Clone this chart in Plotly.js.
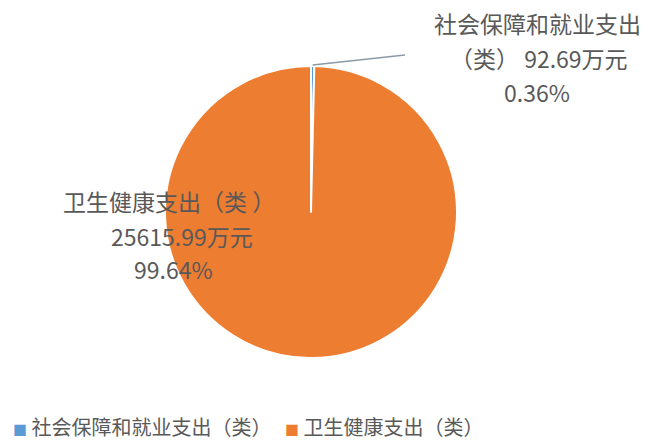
<!DOCTYPE html>
<html>
<head>
<meta charset="utf-8">
<script src="https://cdn.plot.ly/plotly-3.0.1.min.js"></script>
<style>html,body{margin:0;padding:0;background:#fff;}#chart{width:656px;height:441px;}</style>
</head>
<body>
<div id="chart"></div>
<script>
// Data
const categories = ["社会保障和就业支出（类）", "卫生健康支出（类）"];
const amounts = [92.69, 25615.99];          // 万元
const percents = ["0.36%", "99.64%"];
const colors = ["#5B9BD5", "#ED7D31"];
const unit = "万元";

const W = 656, H = 441;
const cx = 311, cy = 212, R = 146;
const FONT = "'Noto Sans CJK SC', 'Noto Sans', sans-serif";
const txtColor = "#595959";

const trace = {
  type: "pie",
  values: amounts,
  labels: categories,
  sort: false,
  direction: "clockwise",
  rotation: 0,
  textinfo: "none",
  hoverinfo: "label+value+percent",
  marker: { colors: colors, line: { color: "#ffffff", width: 2 } },
  domain: { x: [(cx - R) / W, (cx + R) / W], y: [(H - cy - R) / H, (H - cy + R) / H] },
  showlegend: false
};

// leader line for small slice, from slice mid-angle on rim
const total = amounts.reduce((a, b) => a + b, 0);
const midAng = (amounts[0] / total) * Math.PI;
const px = cx + R * Math.sin(midAng), py = cy - R * Math.cos(midAng);
const shapes = [{
  type: "line", xref: "paper", yref: "paper",
  x0: px / W, y0: 1 - (py - 1) / H, x1: 405 / W, y1: 1 - 55 / H,
  line: { color: "#8c9aa8", width: 1.5 }
}];

function ann(text, x, y, size, color, xanchor) {
  return { text: text, xref: "paper", yref: "paper", x: x / W, y: 1 - y / H,
    xanchor: xanchor || "center", yanchor: "middle", showarrow: false,
    font: { family: FONT, size: size, color: color || txtColor } };
}

const annotations = [
  // small slice label
  ann("社会保障和就业支出", 537, 23, 23),
  ann("（类） " + amounts[0].toFixed(2) + unit, 539, 58, 23),
  ann(percents[0], 537, 92, 23),
  // big slice label
  ann(categories[1].replace("（类）", "（类 ）"), 169, 201, 23),
  ann(amounts[1].toFixed(2) + unit, 182, 236, 23),
  ann(percents[1], 173, 269, 23),
  // legend
  ann('<span style="color:' + colors[0] + ';font-size:14px">■</span> ' + categories[0], 11, 426, 20, txtColor, "left"),
  ann('<span style="color:' + colors[1] + ';font-size:14px">■</span> ' + categories[1], 283, 426, 20, txtColor, "left")
];

Plotly.newPlot("chart", [trace], {
  width: W, height: H,
  margin: { l: 0, r: 0, t: 0, b: 0 },
  paper_bgcolor: "#ffffff",
  plot_bgcolor: "#ffffff",
  shapes: shapes,
  annotations: annotations
}, { displayModeBar: false, staticPlot: true });
</script>
</body>
</html>
